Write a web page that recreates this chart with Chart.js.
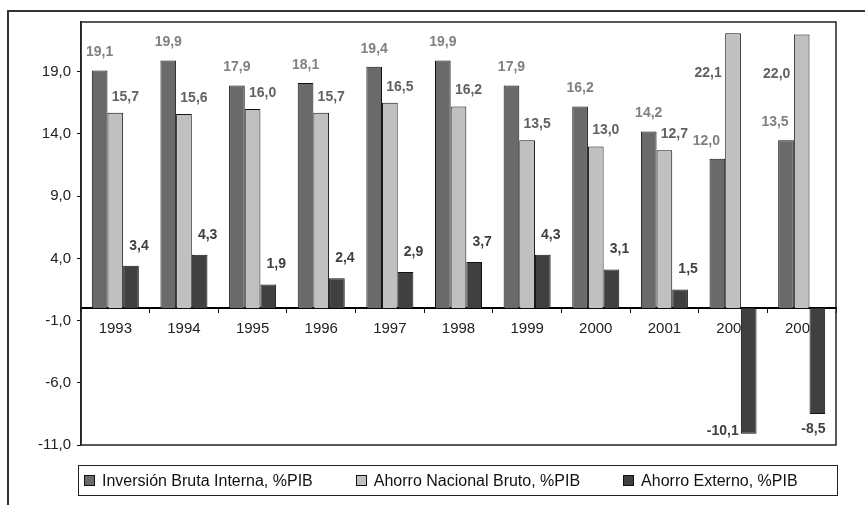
<!DOCTYPE html>
<html>
<head>
<meta charset="utf-8">
<script src="https://cdn.jsdelivr.net/npm/chart.js@4/dist/chart.umd.min.js"></script>
<style>
  html, body { margin: 0; padding: 0; background: #fff; overflow: hidden; }
  .frame { position: absolute; left: 7px; top: 10px; width: 920px; height: 600px; border: 2px solid #333; box-sizing: border-box; }
  .chartContainer { position: absolute; left: 0; top: 0; width: 865px; height: 505px; }
  .legend { position: absolute; left: 78px; top: 465px; width: 760px; height: 31px; border: 1px solid #222; box-sizing: border-box;
            display: flex; align-items: center; padding-left: 5px; font: 16px Arial, "Liberation Sans", sans-serif; color: #111; }
  .legend .item { display: flex; align-items: center; margin-right: 43px; white-space: nowrap; }
  .legend .swatch { width: 9px; height: 9px; border: 1px solid #111; margin-right: 7px; }
</style>
</head>
<body>
<div class="frame"></div>
<div class="chartContainer"><canvas class="bar-chart" width="865" height="505"></canvas></div>
<div class="legend"></div>
<script>
const years = ["1993", "1994", "1995", "1996", "1997", "1998", "1999", "2000", "2001", "2002", "2003"];
const inversionBruta = [19.1, 19.9, 17.9, 18.1, 19.4, 19.9, 17.9, 16.2, 14.2, 12.0, 13.5];
const ahorroNacional = [15.7, 15.6, 16.0, 15.7, 16.5, 16.2, 13.5, 13.0, 12.7, 22.1, 22.0];
const ahorroExterno = [3.4, 4.3, 1.9, 2.4, 2.9, 3.7, 4.3, 3.1, 1.5, -10.1, -8.5];
const seriesNames = ["Inversión Bruta Interna, %PIB", "Ahorro Nacional Bruto, %PIB", "Ahorro Externo, %PIB"];
const yTicks = [-11, -6, -1, 4, 9, 14, 19];

const fillColors = ["#6a6a6a", "#c0c0c0", "#404040"];
const labelColors = ["#808080", "#626262", "#404040"];
// label nudges per series: [dx, gap above bar]
const labelNudge = [[0, 18], [10, 16], [8, 20]];

const fmt = (v) => v.toFixed(1).replace(".", ",");

// value labels over the bars
const barLabels = {
  id: "barLabels",
  afterDatasetsDraw(chart) {
    const ctx = chart.ctx;
    const area = chart.chartArea;
    const metas = chart.data.datasets.map((ds, i) => chart.getDatasetMeta(i));
    ctx.save();
    ctx.font = "bold 14px Arial, 'Liberation Sans', sans-serif";
    ctx.textAlign = "center";
    ctx.textBaseline = "middle";
    chart.data.datasets.forEach((ds, i) => {
      ctx.fillStyle = labelColors[i];
      metas[i].data.forEach((bar, j) => {
        const v = ds.data[j];
        let x, y;
        if (v < 0) {
          x = bar.x - 4;
          y = bar.y + 15;
          if (y > area.bottom - 8) { x = bar.x - 26; y = bar.y - 3; }
        } else {
          x = bar.x + labelNudge[i][0];
          y = bar.y - labelNudge[i][1];
          if (y < area.top + 12) {
            x = bar.x - 25;
            y = bar.y + 40;
          } else if (metas[i + 1] && metas[i + 1].data[j].y < y - 8) {
            // taller neighbour on the right: move the label aside
            x -= 11;
          }
        }
        ctx.fillText(fmt(v), x, y);
      });
    });
    ctx.restore();
  },
};

// box round the plot area
const plotBorder = {
  id: "plotBorder",
  beforeDatasetsDraw(chart) {
    const { ctx, chartArea: a } = chart;
    ctx.save();
    ctx.strokeStyle = "#222";
    ctx.lineWidth = 1.5;
    ctx.strokeRect(a.left, a.top, a.right - a.left, a.bottom - a.top);
    ctx.restore();
  },
};

const chartCanvas = document.querySelector(".bar-chart");
const chart = new Chart(chartCanvas, {
  type: "bar",
  data: {
    labels: years,
    datasets: [inversionBruta, ahorroNacional, ahorroExterno].map((values, i) => ({
      label: seriesNames[i],
      data: values,
      backgroundColor: fillColors[i],
      borderColor: "#111",
      borderWidth: 1,
      categoryPercentage: 0.685,
      barPercentage: 1,
    })),
  },
  options: {
    responsive: false,
    animation: false,
    devicePixelRatio: 1,
    layout: { padding: { left: 0, top: 22, right: 29, bottom: 60 } },
    plugins: {
      legend: { display: false },
      tooltip: { enabled: false },
    },
    scales: {
      x: {
        position: { y: 0 },
        grid: { drawOnChartArea: false, color: "#111", tickLength: 4, offset: true },
        border: { color: "#000", width: 2 },
        ticks: { color: "#222", padding: 8, font: { family: "Arial", size: 15 }, maxRotation: 0 },
      },
      y: {
        min: -11,
        max: 23,
        afterFit: (scale) => { scale.width = 81; },
        afterBuildTicks: (scale) => { scale.ticks = yTicks.map((v) => ({ value: v })); },
        grid: { drawOnChartArea: false, color: "#111", tickLength: 4 },
        border: { color: "#222", width: 1.5 },
        ticks: { color: "#222", padding: 6, font: { family: "Arial", size: 15 }, callback: (v) => fmt(v) },
      },
    },
  },
  plugins: [plotBorder, barLabels],
});

// html legend built from the datasets
const legendBox = document.querySelector(".legend");
chart.data.datasets.forEach((ds) => {
  const item = document.createElement("span");
  item.classList.add("item");
  const sw = document.createElement("span");
  sw.classList.add("swatch");
  sw.style.background = ds.backgroundColor;
  item.appendChild(sw);
  item.appendChild(document.createTextNode(ds.label));
  legendBox.appendChild(item);
});
</script>
</body>
</html>
